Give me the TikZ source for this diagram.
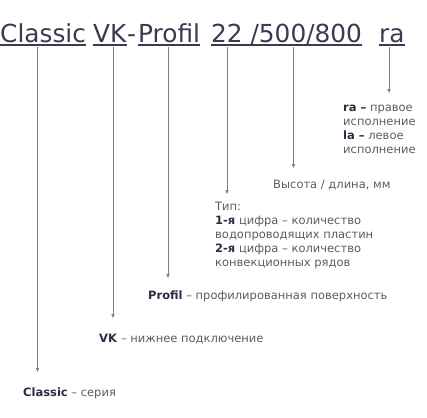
\documentclass[tikz,border=0pt]{standalone}
\usepackage{fontspec}
\setmainfont{DejaVu Sans}
\usetikzlibrary{arrows.meta}
\definecolor{mkdark}{RGB}{58,58,80}
\definecolor{mktext}{RGB}{92,92,92}
\definecolor{mkbold}{RGB}{44,44,68}
\definecolor{mkline}{RGB}{128,128,128}
\tikzset{
  part/.style={anchor=base west, inner sep=0pt, text=mkdark, font=\fontsize{24.8}{28}\selectfont},
  uline/.style={draw=mkdark, line width=1.2pt},
  note/.style={anchor=base west, inner sep=0pt, text=mktext, align=left,
               font=\fontsize{11.5}{14}\selectfont},
  arr/.style={-{Triangle[length=4pt,width=3.2pt]}, draw=mkline, line width=0.8pt, shorten <=4pt}
}
\newcommand{\kw}[1]{\textcolor{mkbold}{\textbf{#1}}}

\begin{document}
\begin{tikzpicture}[x=1pt,y=-1pt]
  \useasboundingbox (0,0) rectangle (427,417);
  % title: the code
  \node[part] (cl) at (0,43)   {Classic};
  \node[part] (vk) at (93,43)  {VK};
  \node[part] (da) at (127,43) {-};
  \node[part] (pr) at (138,43) {Profil};
  \node[part] (nn) at (211,43) {22 /500/800};
  \node[part] (ra) at (379,43) {ra};
  \foreach \p in {cl,vk,pr,nn,ra}
    \draw[uline] ([yshift=-2pt]\p.base west) -- ([yshift=-2pt]\p.base east);

  % explanations (base = last line)
  \node[note] (lra) at (343,153) {\kw{ra –} правое\\исполнение\\\kw{la –} левое\\исполнение};
  \node[note] (lhl) at (273,188) {Высота / длина, мм};
  \node[note] (lty) at (215,266) {Тип:\\\kw{1-я} цифра – количество\\водопроводящих пластин\\\kw{2-я} цифра – количество\\конвекционных рядов};
  \node[note] (lpr) at (148,299) {\kw{Profil} – профилированная поверхность};
  \node[note] (lvk) at (99,342)  {\kw{VK} – нижнее подключение};
  \node[note] (lcl) at (23,396)  {\kw{Classic} – серия};

  % arrow tips
  \coordinate (tcl) at (37.5,372);
  \coordinate (tvk) at (113,318);
  \coordinate (tpr) at (168,278);
  \coordinate (tty) at (227,194);
  \coordinate (thl) at (293.5,168);
  \coordinate (tra) at (389,93);

  \draw[arr] (cl.base -| tcl) -- (tcl);
  \draw[arr] (vk.base -| tvk) -- (tvk);
  \draw[arr] (pr.base -| tpr) -- (tpr);
  \draw[arr] (nn.base -| tty) -- (tty);
  \draw[arr] (nn.base -| thl) -- (thl);
  \draw[arr] (ra.base -| tra) -- (tra);
\end{tikzpicture}
\end{document}
